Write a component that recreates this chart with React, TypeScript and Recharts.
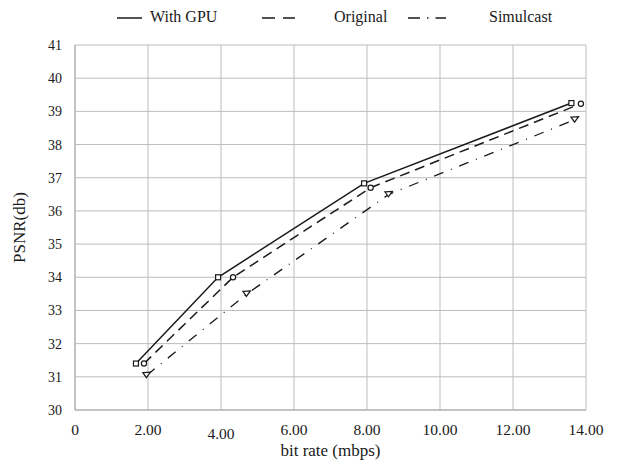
import React from "react";
import { LineChart, Line, XAxis, YAxis, CartesianGrid } from "recharts";

const gpuX = [1.67, 3.92, 7.92, 13.6];
const gpuY = [31.4, 34.0, 36.83, 39.25];
const origX = [1.89, 4.33, 8.1, 13.86];
const origY = [31.4, 34.0, 36.7, 39.23];
const simX = [1.97, 4.71, 8.6, 13.7];
const simY = [31.05, 33.5, 36.5, 38.75];
const xTicks = [0, 2, 4, 6, 8, 10, 12, 14];
const xTickLabels = ["0", "2.00", "4.00", "6.00", "8.00", "10.00", "12.00", "14.00"];
const yTicks = [30, 31, 32, 33, 34, 35, 36, 37, 38, 39, 40, 41];

const toPts = (xs: number[], ys: number[]) => xs.map((x, i) => ({ x, y: ys[i] }));
const gpuData = toPts(gpuX, gpuY);
const origData = toPts(origX, origY);
const simData = toPts(simX, simY);

const FONT = "Liberation Serif";
const INK = "#1a1a1a";

const SquareDot = (p: any) => {
  const { cx, cy } = p;
  if (cx == null || cy == null) return null;
  return <rect x={cx - 2.5} y={cy - 2.5} width={5} height={5} fill="#fff" stroke={INK} strokeWidth={1.2} />;
};
const CircleDot = (p: any) => {
  const { cx, cy } = p;
  if (cx == null || cy == null) return null;
  return <circle cx={cx} cy={cy} r={2.6} fill="#fff" stroke={INK} strokeWidth={1.2} />;
};
const TriDot = (p: any) => {
  const { cx, cy } = p;
  if (cx == null || cy == null) return null;
  return (
    <path
      d={`M${cx - 4},${cy - 2.5} L${cx + 3.5},${cy - 3} L${cx - 0.5},${cy + 2.5} Z`}
      fill="#fff"
      stroke={INK}
      strokeWidth={1.2}
    />
  );
};

const XTick = (p: any) => {
  const { x, y, payload } = p;
  const label = xTickLabels[xTicks.indexOf(payload.value)] ?? String(payload.value);
  const extra = payload.value === 4 ? 4 : 0;
  return (
    <text x={x} y={y + extra} dy="0.71em" textAnchor="middle" style={{ fontFamily: FONT }} fontSize={15.5} fill={INK}>
      {label}
    </text>
  );
};

const YTick = (p: any) => {
  const { x, y, payload } = p;
  return (
    <text x={x} y={y} dy="0.355em" textAnchor="end" style={{ fontFamily: FONT }} fontSize={14} fill={INK}>
      {payload.value}
    </text>
  );
};

export default function App() {
  return (
    <div style={{ position: "absolute", left: 0, top: 0, width: 620, height: 462, background: "#fff", fontFamily: FONT }}>
      <LineChart
        width={620}
        height={462}
        margin={{ top: 45, right: 34, bottom: 22, left: 15 }}
        style={{ position: "absolute", left: 0, top: 0, fontFamily: FONT }}
      >
        <CartesianGrid stroke="#bdbdbd" strokeWidth={1} />
        <XAxis
          type="number"
          dataKey="x"
          domain={[0, 14]}
          ticks={xTicks}
          interval={0}
          allowDataOverflow
          tick={<XTick />}
          tickLine={false}
          tickSize={0}
          tickMargin={14}
          axisLine={{ stroke: "#a8a8a8" }}
          height={30}
          label={{ value: "bit rate (mbps)", position: "insideBottom", offset: -16, fontSize: 17, fill: INK, style: { fontFamily: FONT } }}
        />
        <YAxis
          type="number"
          dataKey="y"
          domain={[30, 41]}
          ticks={yTicks}
          interval={0}
          allowDataOverflow
          tickLine={false}
          tickSize={0}
          tickMargin={13}
          axisLine={{ stroke: "#a8a8a8" }}
          width={60}
          tick={<YTick />}
          label={{ value: "PSNR(db)", angle: -90, position: "insideLeft", offset: 4, fontSize: 17, fill: INK, style: { textAnchor: "middle", fontFamily: FONT } }}
        />
        <Line data={gpuData} dataKey="y" type="linear" stroke={INK} strokeWidth={1.5} dot={<SquareDot />} activeDot={false} isAnimationActive={false} />
        <Line data={origData} dataKey="y" type="linear" stroke={INK} strokeWidth={1.5} strokeDasharray="10 6" dot={<CircleDot />} activeDot={false} isAnimationActive={false} />
        <Line data={simData} dataKey="y" type="linear" stroke={INK} strokeWidth={1.3} strokeDasharray="10 8 1 8" dot={<TriDot />} activeDot={false} isAnimationActive={false} />
      </LineChart>
      <div style={{ position: "absolute", left: 0, top: 0, width: 620, height: 36, fontFamily: FONT, fontSize: 16, color: INK }}>
        <svg width={620} height={36} style={{ position: "absolute", left: 0, top: 0 }}>
          <line x1={117} y1={18} x2={142} y2={18} stroke={INK} strokeWidth={1.5} />
          <line x1={262} y1={18} x2={295} y2={18} stroke={INK} strokeWidth={1.5} strokeDasharray="13 8" />
          <line x1={408} y1={18} x2={446} y2={18} stroke={INK} strokeWidth={1.5} strokeDasharray="12 7 1.5 7" />
        </svg>
        <span style={{ position: "absolute", left: 150, top: 8, fontFamily: FONT }}>With GPU</span>
        <span style={{ position: "absolute", left: 334, top: 8, fontFamily: FONT }}>Original</span>
        <span style={{ position: "absolute", left: 489, top: 8, fontFamily: FONT }}>Simulcast</span>
      </div>
    </div>
  );
}
